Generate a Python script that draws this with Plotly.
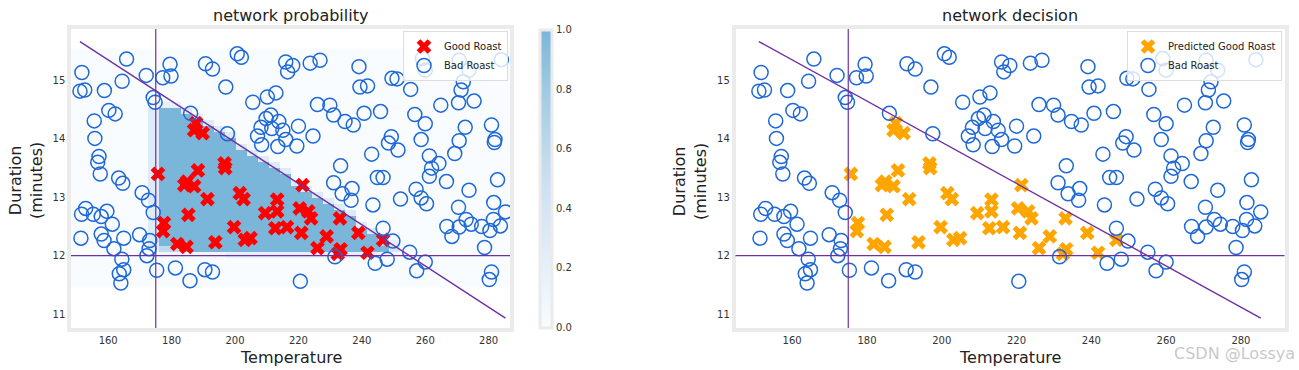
import numpy as np
import plotly.graph_objects as go

# ---------------- data ----------------
good_temp = [187.7, 189.8, 187.1, 175.7, 188.3, 196.7, 196.9, 184.9, 187.1, 184.0,
             191.3, 201.5, 202.7, 209.5, 213.3, 213.3, 185.3, 177.6, 177.3, 199.7,
             203.1, 204.9, 193.8, 181.8, 184.7, 212.7, 221.3, 220.4, 223.1, 224.0,
             216.4, 220.9, 228.9, 233.1, 238.9, 226.0, 233.3, 232.4, 241.8, 246.7]
good_dur = [14.27, 14.10, 14.15, 13.40, 13.46, 13.58, 13.50, 13.27, 13.19, 13.21,
            12.97, 13.07, 12.97, 12.73, 12.96, 12.76, 12.70, 12.56, 12.42, 12.49,
            12.27, 12.30, 12.23, 12.20, 12.15, 12.47, 13.21, 12.81, 12.76, 12.64,
            12.49, 12.39, 12.33, 12.64, 12.39, 12.13, 12.11, 12.03, 12.05, 12.27]

bad_temp = [151.7, 151.1, 152.6, 158.8, 165.8, 164.4, 172.0, 177.2, 179.5, 179.8,
            174.2, 174.8, 160.2, 162.2, 155.6, 155.8, 157.1, 156.7, 157.5, 186.0,
            190.7, 192.9, 197.1, 200.7, 202.0, 197.6, 205.6, 210.2, 212.9, 209.8,
            211.3, 208.2, 207.1, 208.4, 211.6, 213.8, 213.5, 215.1,
            216.0, 218.2, 216.6, 223.7, 226.8, 239.1, 239.4, 241.8, 249.5, 251.1,
            255.4, 260.0, 259.1, 270.7, 284.0, 273.8, 272.0, 271.3, 270.5, 275.4,
            264.9, 226.0, 229.9, 231.1, 234.7, 237.3, 240.7, 245.9, 256.7, 260.0,
            220.0, 224.6, 216.0, 219.5, 249.3, 248.4, 251.4, 258.7, 243.1, 233.3,
            261.3, 264.3, 262.0, 261.3, 270.7, 272.6, 269.3, 280.9, 282.0, 281.8,
            244.9, 246.7,
            163.3, 164.6, 170.7, 172.7, 174.2, 152.9, 151.6, 155.3, 157.8, 159.6,
            161.3, 151.4, 157.8, 158.7, 164.9, 161.8, 169.9, 173.1, 172.9, 172.2,
            164.3, 164.9, 163.5, 164.0, 175.3, 181.2, 185.8, 190.5, 192.9,
            231.1, 233.8, 236.9, 236.6, 243.5, 252.2, 257.1, 258.7, 260.4, 266.7,
            273.8, 282.8, 270.5, 281.6, 285.3, 266.8, 268.4, 270.7, 272.9, 274.5,
            277.8, 280.4, 281.5, 283.7, 278.7, 280.9, 280.2, 246.7, 249.8, 255.1,
            260.0, 257.3, 244.2, 248.0, 231.5, 220.6]
bad_dur = [15.14, 14.82, 14.84, 14.83, 15.37, 14.99, 15.09, 15.05, 15.28, 15.08,
           14.71, 14.63, 14.49, 14.43, 14.31, 14.01, 13.70, 13.60, 13.40, 14.44,
           15.29, 15.20, 14.89, 15.46, 15.40, 14.09, 14.63, 14.72, 14.79, 14.35,
           14.41, 14.20, 14.05, 13.90, 14.18, 14.30, 13.87, 14.15,
           15.32, 15.26, 15.15, 15.30, 15.35, 15.24, 14.89, 14.91, 15.04, 15.03,
           14.85, 15.18, 15.38, 15.35, 15.36, 15.18, 14.98, 14.84, 14.62, 14.65,
           14.58, 14.59, 14.58, 14.41, 14.30, 14.24, 14.44, 14.47, 14.42, 14.26,
           14.22, 14.05, 13.99, 13.88, 14.04, 13.93, 13.81, 13.99, 13.74, 13.54,
           13.71, 13.58, 13.50, 13.36, 13.97, 14.20, 13.75, 14.24, 13.99, 13.94,
           13.34, 13.34,
           13.33, 13.24, 13.08, 12.95, 12.74, 12.81, 12.71, 12.71, 12.67, 12.76,
           12.54, 12.30, 12.37, 12.26, 12.30, 12.12, 12.36, 12.26, 12.12, 12.00,
           11.94, 11.76, 11.69, 11.53, 11.75, 11.79, 11.57, 11.76, 11.72,
           13.25, 13.06, 13.15, 12.95, 12.87, 12.97, 13.14, 12.99, 12.89, 13.27,
           13.12, 13.30, 12.83, 12.91, 12.75, 12.50, 12.33, 12.49, 12.62, 12.54,
           12.50, 12.43, 12.62, 12.51, 12.14, 11.72, 11.59, 12.47, 12.25, 12.06,
           11.89, 11.74, 11.87, 11.94, 11.98, 11.56]

boundary_temp = [151.1, 285.3]
boundary_dur = [15.67, 10.93]
temp_threshold = 175
dur_threshold = 12

# probability grid (40 x 40), top row first; '0'..'9' -> 0.0..0.9, 'X' -> 1.0
Z = "0" * 40
prob_rows = (
    [Z] * 9 + [
        "0" * 8 + "22" + "0" * 30,
        "0" * 7 + "3" + "X" * 2 + "3" + "0" * 29,
        "0" * 7 + "3" + "X" * 3 + "3" + "0" * 28,
        "0" * 7 + "3" + "X" * 4 + "3" + "0" * 27,
        "0" * 7 + "3" + "X" * 5 + "3" + "0" * 26,
        "0" * 7 + "3" + "X" * 6 + "3" + "0" * 25,
        "0" * 7 + "3" + "X" * 7 + "0" * 25,
        "0" * 7 + "3" + "X" * 7 + "3" + "0" * 24,
        "0" * 7 + "3" + "X" * 8 + "3" + "0" * 23,
        "0" * 7 + "3" + "X" * 9 + "3" + "0" * 22,
        "0" * 7 + "3" + "X" * 10 + "3" + "0" * 21,
        "0" * 7 + "3" + "X" * 11 + "3" + "0" * 20,
        "0" * 7 + "3" + "X" * 12 + "0" * 20,
        "0" * 7 + "3" + "X" * 12 + "3" + "0" * 19,
        "0" * 7 + "3" + "X" * 13 + "3" + "0" * 18,
        "0" * 7 + "3" + "X" * 14 + "3" + "0" * 17,
        "0" * 7 + "3" + "X" * 15 + "3" + "0" * 16,
        "0" * 7 + "3" + "X" * 16 + "3" + "0" * 15,
        "0" * 7 + "3" + "X" * 17 + "3" + "0" * 14,
        "0" * 7 + "3" + "X" * 18 + "0" * 14,
        "0" * 7 + "3" + "X" * 18 + "3" + "0" * 13,
        "0" * 7 + "3" + "X" * 19 + "3" + "0" * 12,
        "0" * 7 + "3" + "X" * 20 + "3" + "0" * 11,
        "0" * 7 + "3" + "X" * 20 + "7" + "2" + "0" * 10,
        "0" * 7 + "2" + "66" + "X" * 19 + "4" + "0" * 10,
        "0" * 8 + "1" * 6 + "2" * 14 + "1" + "0" * 11,
    ] + [Z] * 5
)
grid_temp = np.linspace(150, 285, 40)
grid_dur = np.linspace(11.5, 15.5, 40)

x_ticks = [160, 180, 200, 220, 240, 260, 280]
y_ticks = [11, 12, 13, 14, 15]
cbar_ticks = [0.0, 0.2, 0.4, 0.6, 0.8, 1.0]

# ---------------- build ----------------
assert all(len(r) == 40 for r in prob_rows) and len(prob_rows) == 40
def cval(c):
    return 1.0 if c == "X" else int(c) / 10.0
z = [[cval(c) for c in row] for row in reversed(prob_rows)]

W, H = 1299, 370
def px(v): return v / W
def py(v): return 1 - v / H

BLUE = "#1f68d8"
PURPLE = "#7030A0"
FONT = "DejaVu Sans"

# truncated Blues (0..0.5) blended with white at alpha 0.9
cscale = [[0.0, "#f8fcff"], [0.25, "#e1edf8"], [0.5, "#ccdff1"],
          [0.75, "#a8cfe4"], [1.0, "#7ab6da"]]

fig = go.Figure()

fig.add_trace(go.Heatmap(
    x=grid_temp, y=grid_dur, z=z, zmin=0, zmax=1, colorscale=cscale,
    xaxis="x", yaxis="y", hoverinfo="skip",
    colorbar=dict(x=px(540), xanchor="left", xref="paper",
                  y=py(178.5), yanchor="middle", len=(328 - 30) / H, lenmode="fraction",
                  thickness=12, outlinecolor="#ebebeb", outlinewidth=3,
                  tickvals=cbar_ticks, tickformat=".1f", ticks="",
                  tickfont=dict(size=10, color="#333", family=FONT), xpad=0, ypad=0),
))

for ax_x, ax_y, leg, good_name, good_color in [
        ("x", "y", "legend", "Good Roast", "red"),
        ("x2", "y2", "legend2", "Predicted Good Roast", "#ffa500")]:
    fig.add_trace(go.Scatter(
        x=good_temp, y=good_dur, mode="markers", name=good_name,
        marker=dict(symbol="x", size=13, color=good_color, line=dict(width=0)),
        xaxis=ax_x, yaxis=ax_y, legend=leg))
    fig.add_trace(go.Scatter(
        x=bad_temp, y=bad_dur, mode="markers", name="Bad Roast",
        marker=dict(symbol="circle-open", size=14, color=BLUE, line=dict(width=1.5, color=BLUE)),
        xaxis=ax_x, yaxis=ax_y, legend=leg))
    fig.add_trace(go.Scatter(
        x=boundary_temp, y=boundary_dur, mode="lines", showlegend=False,
        line=dict(color=PURPLE, width=1.4), xaxis=ax_x, yaxis=ax_y, hoverinfo="skip"))
    fig.add_shape(type="line", xref=ax_x, yref=ax_y + " domain",
                  x0=temp_threshold, x1=temp_threshold, y0=0, y1=1,
                  line=dict(color=PURPLE, width=1.2))
    fig.add_shape(type="line", xref=ax_x + " domain", yref=ax_y,
                  x0=0, x1=1, y0=dur_threshold, y1=dur_threshold,
                  line=dict(color=PURPLE, width=1.2))

axis_common = dict(showgrid=False, zeroline=False, showline=True, mirror=True,
                   linecolor="#ebebeb", linewidth=3.5, ticks="",
                   tickfont=dict(size=10, color="#333", family=FONT))
ydom = [py(328), py(29)]
fig.update_layout(
    width=W, height=H, margin=dict(l=0, r=0, t=0, b=0),
    paper_bgcolor="white", plot_bgcolor="white",
    font=dict(family=FONT),
    xaxis=dict(domain=[px(71), px(510)], range=[148.27, 286.73], anchor="y",
               tickvals=x_ticks, **axis_common),
    yaxis=dict(domain=ydom, range=[10.76, 15.885], anchor="x",
               tickvals=y_ticks, **axis_common),
    xaxis2=dict(domain=[px(735.5), px(1284.5)], range=[144.85, 291.65], anchor="y2",
                tickvals=x_ticks, **axis_common),
    yaxis2=dict(domain=ydom, range=[10.76, 15.885], anchor="x2",
                tickvals=y_ticks, **axis_common),
    legend=dict(x=px(508), xanchor="right", y=py(31), yanchor="top",
                bgcolor="rgba(255,255,255,0.8)", bordercolor="#dddddd", borderwidth=1,
                font=dict(size=10, color="#222", family=FONT), tracegroupgap=0,
                itemwidth=30),
    legend2=dict(x=px(1282), xanchor="right", y=py(31), yanchor="top",
                 bgcolor="rgba(255,255,255,0.8)", bordercolor="#dddddd", borderwidth=1,
                 font=dict(size=10, color="#222", family=FONT), tracegroupgap=0,
                 itemwidth=30),
)

ann = []
for cx, title in [(290.5, "network probability"), (1010, "network decision")]:
    ann.append(dict(x=px(cx), y=py(15), xref="paper", yref="paper", text=title,
                    showarrow=False, font=dict(size=16, color="#222", family=FONT),
                    xanchor="center", yanchor="middle"))
    ann.append(dict(x=px(cx), y=py(357), xref="paper", yref="paper", text="Temperature",
                    showarrow=False, font=dict(size=16, color="#222", family=FONT),
                    xanchor="center", yanchor="middle"))
for cx in [26, 690]:
    ann.append(dict(x=px(cx), y=py(181), xref="paper", yref="paper",
                    text="Duration<br>(minutes)", textangle=-90, showarrow=False,
                    font=dict(size=16, color="#222", family=FONT),
                    xanchor="center", yanchor="middle"))
ann.append(dict(x=px(1297), y=py(353), xref="paper", yref="paper", text="CSDN @Lossya",
                showarrow=False, font=dict(size=16, color="rgba(190,190,190,0.85)", family=FONT),
                xanchor="right", yanchor="middle"))
fig.update_layout(annotations=ann)

fig.write_html("out.html", config={"displayModeBar": False},
               post_script="document.body.style.margin='0';")
